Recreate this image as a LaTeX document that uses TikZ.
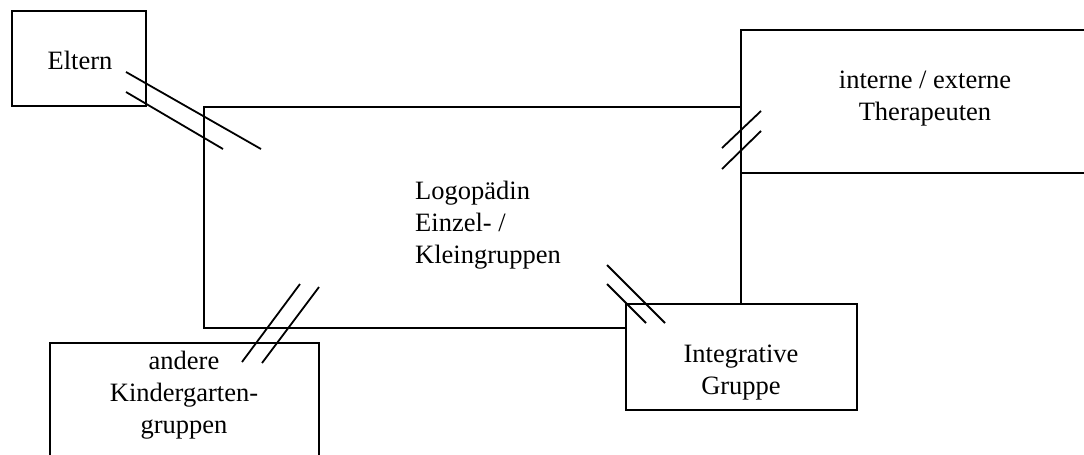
\documentclass[tikz,border=0pt]{standalone}
\usepackage{fontspec}
\setmainfont{Liberation Serif}
\begin{document}
\begin{tikzpicture}[x=1pt,y=-1pt,
  box/.style={draw,fill=white,line width=1.8pt,inner sep=0pt,rectangle},
  lbl/.style={inner sep=0pt,font=\fontsize{26.5}{32}\selectfont},
  tick/.style={line width=1.8pt}]
\useasboundingbox (0,0) rectangle (1084,455);
\clip (0,0) rectangle (1084,455);

% boxes
\node[box,minimum width=537pt,minimum height=221pt] (logo) at (472.5,217.5) {};
\node[box,minimum width=134pt,minimum height=95pt] (eltern) at (79,58.5) {};
\node[box,minimum width=369pt,minimum height=143pt] (ther) at (925.5,101.5) {};
\node[box,minimum width=231pt,minimum height=106pt] (integ) at (741.5,357) {};
\node[box,minimum width=269pt,minimum height=137pt] (andere) at (184.5,411.5) {};

% labels (base anchor = baseline of the last line)
\node[lbl,anchor=base] (teltern) at (80,69.5) {Eltern};
\node[lbl,anchor=base,align=center] (tther) at (925,120) {interne / externe\\Therapeuten};
\node[lbl,anchor=base west,align=left] (tlogo) at (415,263) {Logopädin\\Einzel- /\\Kleingruppen};
\node[lbl,anchor=base,align=center] (tinteg) at (741,394) {Integrative\\Gruppe};
\node[lbl,anchor=base,align=center] (tandere) at (184,433) {andere\\Kindergarten-\\gruppen};

% double strokes marking the links between the groups
\coordinate (a1) at (126,72);  \coordinate (a2) at (261,149);
\coordinate (a3) at (126,92);  \coordinate (a4) at (223,149);
\coordinate (b1) at (722,148); \coordinate (b2) at (761,111);
\coordinate (b3) at (722,169); \coordinate (b4) at (761,131);
\coordinate (c1) at (607,265); \coordinate (c2) at (665,323);
\coordinate (c3) at (607,284); \coordinate (c4) at (646,323);
\coordinate (d1) at (242,362); \coordinate (d2) at (300,284);
\coordinate (d3) at (262,363); \coordinate (d4) at (319,287);
\draw[tick] (a1) -- (a2) (a3) -- (a4);
\draw[tick] (b1) -- (b2) (b3) -- (b4);
\draw[tick] (c1) -- (c2) (c3) -- (c4);
\draw[tick] (d1) -- (d2) (d3) -- (d4);
\end{tikzpicture}
\end{document}
